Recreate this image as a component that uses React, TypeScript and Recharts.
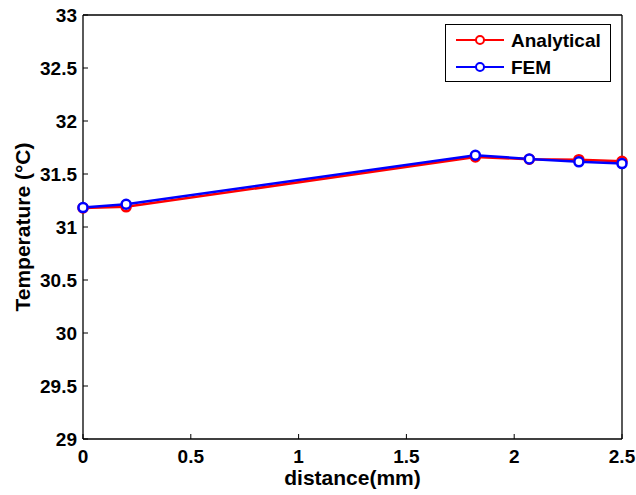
import { LineChart, Line, XAxis, YAxis, Legend } from 'recharts'

const distance = [0, 0.2, 1.82, 2.07, 2.3, 2.5]
const analytical = [31.18, 31.19, 31.66, 31.64, 31.635, 31.62]
const fem = [31.183, 31.215, 31.677, 31.642, 31.615, 31.598]
const xTicks = [0, 0.5, 1, 1.5, 2, 2.5]
const yTicks = [29, 29.5, 30, 30.5, 31, 31.5, 32, 32.5, 33]

const data = distance.map((d, i) => ({
  distance: d,
  analytical: analytical[i],
  fem: fem[i],
}))

const FONT = '"Liberation Sans", Arial, Helvetica, sans-serif'
const tickStyle = { fontSize: 19, fontWeight: 700, fill: '#000', fontFamily: FONT }

function LegendBox() {
  const rows = [
    { name: 'Analytical', color: '#ff0000', cy: 16 },
    { name: 'FEM', color: '#0000ff', cy: 43 },
  ]
  return (
    <svg width={166} height={58} style={{ display: 'block' }}>
      <rect x={0.5} y={0.5} width={165} height={57} fill="#fff" stroke="#000" strokeWidth={1} />
      {rows.map((r) => (
        <g key={r.name}>
          <line x1={11} x2={59} y1={r.cy} y2={r.cy} stroke={r.color} strokeWidth={2} />
          <circle cx={35} cy={r.cy} r={4} fill="#fff" stroke={r.color} strokeWidth={2} />
          <text x={66} y={r.cy + 7} fontSize={19} fontWeight={700} fontFamily={FONT} fill="#000">
            {r.name}
          </text>
        </g>
      ))}
    </svg>
  )
}

export default function App() {
  return (
    <div style={{ position: 'absolute', left: 0, top: 0, width: 636, height: 495, background: '#fff' }}>
      <LineChart width={636} height={495} data={data} margin={{ top: 15, right: 14, left: 0, bottom: 0 }}>
        <XAxis
          dataKey="distance"
          type="number"
          domain={[0, 2.5]}
          ticks={xTicks}
          interval={0}
          height={56}
          tickSize={-5}
          tickMargin={16}
          tick={tickStyle}
          axisLine={{ stroke: '#000', strokeWidth: 1.3 }}
          tickLine={{ stroke: '#000', strokeWidth: 1 }}
          label={{
            content: ({ viewBox }: any) => (
              <text
                x={viewBox.x + viewBox.width / 2}
                y={viewBox.y + 46}
                textAnchor="middle"
                fontSize={21}
                fontWeight={700}
                fontFamily={FONT}
                fill="#000"
              >
                distance(mm)
              </text>
            ),
          }}
        />
        <XAxis
          xAxisId="top"
          orientation="top"
          mirror
          type="number"
          domain={[0, 2.5]}
          ticks={xTicks}
          interval={0}
          tick={false}
          tickSize={5}
          axisLine={{ stroke: '#000', strokeWidth: 1.3 }}
          tickLine={{ stroke: '#000', strokeWidth: 1 }}
        />
        <YAxis
          type="number"
          domain={[29, 33]}
          ticks={yTicks}
          interval={0}
          width={83}
          tickSize={-5}
          tickMargin={11}
          tick={tickStyle}
          axisLine={{ stroke: '#000', strokeWidth: 1.3 }}
          tickLine={{ stroke: '#000', strokeWidth: 1 }}
          label={{
            content: ({ viewBox }: any) => {
              const cx = viewBox.x + 22
              const cy = viewBox.y + viewBox.height / 2
              return (
                <text
                  x={cx}
                  y={cy}
                  transform={`rotate(-90 ${cx} ${cy})`}
                  textAnchor="middle"
                  dominantBaseline="central"
                  fontSize={21}
                  fontWeight={700}
                  fontFamily={FONT}
                  fill="#000"
                >
                  Temperature (°C)
                </text>
              )
            },
          }}
        />
        <YAxis
          yAxisId="right"
          orientation="right"
          mirror
          type="number"
          domain={[29, 33]}
          ticks={yTicks}
          interval={0}
          tick={false}
          tickSize={5}
          axisLine={{ stroke: '#000', strokeWidth: 1.3 }}
          tickLine={{ stroke: '#000', strokeWidth: 1 }}
        />
        <Legend
          layout="vertical"
          align="center"
          verticalAlign="middle"
          wrapperStyle={{ left: 445, top: 24, width: 166, height: 58 }}
          content={() => <LegendBox />}
        />
        <Line
          dataKey="analytical"
          name="Analytical"
          stroke="#ff0000"
          strokeWidth={2.5}
          dot={{ r: 4.5, fill: '#fff', stroke: '#ff0000', strokeWidth: 2.5 }}
          isAnimationActive={false}
        />
        <Line
          dataKey="fem"
          name="FEM"
          stroke="#0000ff"
          strokeWidth={2.5}
          dot={{ r: 4.5, fill: '#fff', stroke: '#0000ff', strokeWidth: 2.5 }}
          isAnimationActive={false}
        />
      </LineChart>
    </div>
  )
}
